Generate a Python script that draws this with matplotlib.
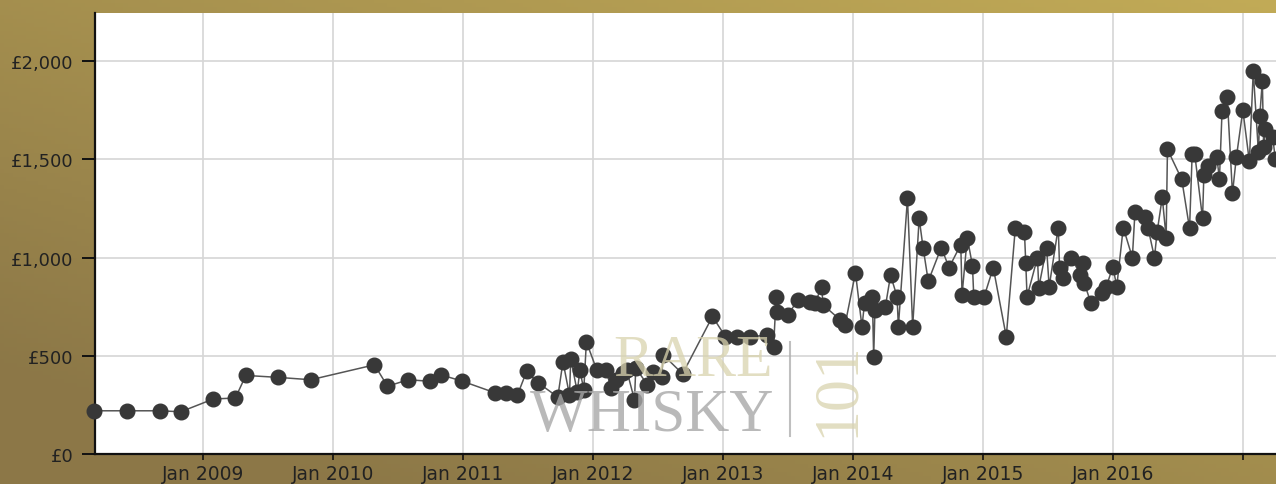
import matplotlib
matplotlib.use('Agg')
import matplotlib.pyplot as plt
import numpy as np
from matplotlib.ticker import FuncFormatter

# auction price history, x in decimal years, value in GBP
years = [2008.16, 2008.42, 2008.67, 2008.83, 2009.08, 2009.25, 2009.33, 2009.58, 2009.83,
         2010.32, 2010.42, 2010.58, 2010.75, 2010.83, 2010.99,
         2011.25, 2011.33, 2011.42, 2011.49, 2011.58, 2011.73, 2011.77, 2011.82, 2011.83,
         2011.88, 2011.90, 2011.93, 2011.95, 2012.03, 2012.10, 2012.14, 2012.18, 2012.23,
         2012.26, 2012.32, 2012.33, 2012.42, 2012.46, 2012.53, 2012.54, 2012.69, 2012.92,
         2013.02, 2013.11, 2013.21, 2013.34, 2013.39, 2013.41, 2013.42, 2013.50, 2013.58,
         2013.67, 2013.71, 2013.76, 2013.77, 2013.90, 2013.94,
         2014.02, 2014.07, 2014.09, 2014.15, 2014.16, 2014.17, 2014.25, 2014.29, 2014.34,
         2014.35, 2014.42, 2014.46, 2014.51, 2014.54, 2014.58, 2014.68, 2014.74, 2014.83,
         2014.84, 2014.88, 2014.92, 2014.93,
         2015.01, 2015.08, 2015.18, 2015.25, 2015.32, 2015.33, 2015.34, 2015.42, 2015.43,
         2015.49, 2015.51, 2015.58, 2015.59, 2015.62, 2015.68, 2015.75, 2015.77, 2015.78,
         2015.83, 2015.92, 2015.95,
         2016.00, 2016.03, 2016.08, 2016.15, 2016.17, 2016.25, 2016.27, 2016.32, 2016.34,
         2016.38, 2016.41, 2016.42, 2016.53, 2016.59, 2016.61, 2016.63, 2016.69, 2016.70,
         2016.73, 2016.80, 2016.82, 2016.84, 2016.88, 2016.92, 2016.95,
         2017.00, 2017.05, 2017.08, 2017.12, 2017.13, 2017.15, 2017.16, 2017.17, 2017.23,
         2017.25]
prices = [220, 220, 220, 215, 280, 285, 400, 390, 378,
          454, 345, 378, 370, 403, 372,
          311, 311, 301, 420, 362, 290, 470, 300, 485,
          316, 428, 327, 571, 428, 428, 337, 378, 413,
          428, 275, 438, 352, 418, 393, 505, 408, 700,
          597, 597, 597, 605, 546, 801, 724, 709, 786,
          776, 770, 852, 760, 684, 658,
          923, 648, 770, 801, 495, 735, 750, 910, 801,
          648, 1301, 648, 1199, 1051, 880, 1051, 949, 1066,
          811, 1102, 959, 801,
          801, 949, 597, 1153, 1128, 974, 801, 1000, 847,
          1051, 852, 1153, 949, 898, 1000, 913, 974, 872,
          770, 821, 852,
          954, 852, 1153, 1000, 1230, 1204, 1153, 1000, 1128,
          1306, 1102, 1551, 1398, 1148, 1526, 1526, 1199, 1418,
          1464, 1510, 1400, 1745, 1816, 1327, 1510,
          1750, 1490, 1949, 1535, 1720, 1898, 1561, 1653, 1612,
          1500]

year_ticks = [2009, 2010, 2011, 2012, 2013, 2014, 2015, 2016, 2017]
year_labels = ['Jan 2009', 'Jan 2010', 'Jan 2011', 'Jan 2012', 'Jan 2013',
               'Jan 2014', 'Jan 2015', 'Jan 2016', '']
price_ticks = [0, 500, 1000, 1500, 2000]

W, H = 1276, 485
fig = plt.figure(figsize=(W / 100, H / 100), dpi=100)

# gold gradient background
bg = fig.add_axes([0, 0, 1, 1], zorder=-5)
gx, gy = np.meshgrid(np.linspace(0, 1, 300), np.linspace(0, 1, 120))
t = np.clip(0.55 * (1 - gx) + 0.6 * gy, 0, 1)[..., None]
top = np.array([0.76, 0.67, 0.34])
bot = np.array([0.55, 0.47, 0.28])
bg.imshow(top + (bot - top) * t, aspect='auto', extent=[0, 1, 1, 0])
bg.set_axis_off()

ax = fig.add_axes([95 / W, 30 / H, 1 - 95 / W, (455 - 14) / H])
ax.set_facecolor('white')
ax.plot(years, prices, color='#555555', lw=1.1, zorder=3)
ax.plot(years, prices, 'o', ms=10.5, color='#383838', mec='#383838', zorder=4,
        clip_on=False)

ax.set_xlim(2008.17, 2017.255)
ax.set_ylim(0, 2245)
ax.set_xticks(year_ticks)
ax.set_xticklabels(year_labels)
ax.set_yticks(price_ticks)
ax.yaxis.set_major_formatter(FuncFormatter(lambda v, p: '£{:,.0f}'.format(v)))
ax.grid(True, color='#d6d6d6', lw=1.2, zorder=0)
ax.set_axisbelow(True)

for s in ['top', 'right']:
    ax.spines[s].set_visible(False)
for s in ['left', 'bottom']:
    ax.spines[s].set_color('#111111')
    ax.spines[s].set_linewidth(1.6)
ax.tick_params(axis='y', length=9.5, width=1.4, color='#111111', pad=6,
               labelsize=13, labelcolor='#222222')
ax.tick_params(axis='x', length=4.5, width=1.2, color='#111111', pad=3,
               labelsize=13.5, labelcolor='#222222')

# watermark
serif = ['Liberation Serif', 'DejaVu Serif']
fig.text(693 / W, 1 - 362 / H, 'RARE', fontsize=43, family=serif,
         color='#d9d3ae', alpha=0.75, ha='center', va='center', zorder=10)
fig.text(652 / W, 1 - 416 / H, 'WHISKY', fontsize=44, family=serif,
         color='#a8a8a8', alpha=0.8, ha='center', va='center', zorder=10)
fig.add_artist(plt.Line2D([790 / W, 790 / W], [1 - 343 / H, 1 - 437 / H],
                          color='#b0b0b0', lw=1.5, alpha=0.8, zorder=10))
fig.text(838 / W, 1 - 389 / H, '101', fontsize=46, family=serif,
         color='#d9d3ae', alpha=0.75, ha='center', va='center', rotation=90, zorder=10)

fig.savefig('out.png', dpi=100)
